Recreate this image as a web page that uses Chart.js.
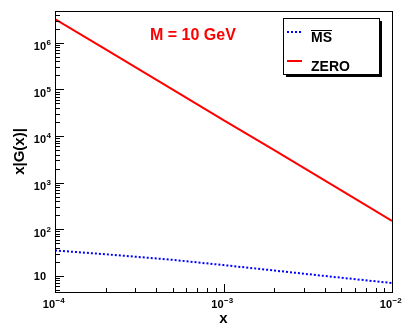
<!DOCTYPE html>
<html>
<head>
<meta charset="utf-8">
<script src="https://cdn.jsdelivr.net/npm/chart.js@4"></script>
<style>
  body { margin: 0; background: #fff; }
  #wrap { width: 403px; height: 332px; }
</style>
</head>
<body>
<div id="wrap"><canvas id="myChart" width="403" height="332"></canvas></div>
<script>
// data
const xValues = [1e-4, 2e-4, 5e-4, 1e-3, 2e-3, 5e-3, 1e-2];
const msValues = [35, 29, 22, 17, 13, 9.1, 7.0];
const zeroValues = [3.2e6, 7.2e5, 9.9e4, 2.2e4, 5.0e3, 680, 150];
const seriesLabels = ['MS', 'ZERO'];
const xTickExps = [-4, -3, -2];
const yTickExps = [1, 2, 3, 4, 5, 6];
const titleText = 'M = 10 GeV';
const xTitle = 'x';
const yTitle = 'x|G(x)|';

const FONT = '"Liberation Sans", Arial, sans-serif';

function pts(ys) {
    return xValues.map((x, i) => ({ x: x, y: ys[i] }));
}

function logTicks(min, max) {
    var out = [];
    for (var d = Math.floor(Math.log10(min)); d <= Math.ceil(Math.log10(max)); d++) {
        for (var k = 1; k <= 9; k++) {
            var v = k * Math.pow(10, d);
            if (v >= min * 0.999 && v <= max * 1.001) out.push({ v: v, major: k === 1 });
        }
    }
    return out;
}

function powLabel(ctx, exp, x, y, align) {
    // draws "10" with a raised exponent, x is the anchor for "10" per align
    ctx.font = 'bold 11px ' + FONT;
    var baseW = ctx.measureText('10').width;
    var expStr = exp === 1 ? '' : String(exp).replace('-', '\u2212');
    ctx.font = 'bold 8px ' + FONT;
    var expW = expStr ? ctx.measureText(expStr).width : 0;
    var left;
    if (align === 'right') left = x - baseW;
    else left = x - (baseW + expW) / 2;
    ctx.textAlign = 'left';
    ctx.textBaseline = 'alphabetic';
    ctx.font = 'bold 11px ' + FONT;
    ctx.fillText('10', left, y);
    if (expStr) {
        ctx.font = 'bold 8px ' + FONT;
        ctx.fillText(expStr, left + baseW + 0.5, y - 5);
    }
}

const rootFrame = {
    id: 'rootFrame',
    afterDraw(chart) {
        var ctx = chart.ctx, a = chart.chartArea;
        var xs = chart.scales.x, ys = chart.scales.y;
        ctx.save();
        ctx.fillStyle = '#000';
        ctx.strokeStyle = '#000';
        ctx.lineWidth = 1;
        ctx.strokeRect(Math.round(a.left) + 0.5, Math.round(a.top) + 0.5,
            Math.round(a.right - a.left), Math.round(a.bottom - a.top));

        // y ticks (inside, on left axis)
        logTicks(ys.min, ys.max).forEach(t => {
            var py = Math.round(ys.getPixelForValue(t.v)) + 0.5;
            ctx.beginPath();
            ctx.moveTo(a.left, py);
            ctx.lineTo(a.left + (t.major ? 9 : 5), py);
            ctx.stroke();
        });
        // x ticks (inside, on bottom axis)
        logTicks(xs.min, xs.max).forEach(t => {
            var px = Math.round(xs.getPixelForValue(t.v)) + 0.5;
            ctx.beginPath();
            ctx.moveTo(px, a.bottom);
            ctx.lineTo(px, a.bottom - (t.major ? 8 : 4));
            ctx.stroke();
        });

        // tick labels
        yTickExps.forEach(e => {
            var py = ys.getPixelForValue(Math.pow(10, e));
            powLabel(ctx, e, a.left - 9, py + (e === 1 ? 4.5 : 7.5), 'right');
        });
        xTickExps.forEach(e => {
            var px = xs.getPixelForValue(Math.pow(10, e));
            powLabel(ctx, e, px - 1.5, a.bottom + 16, 'center');
        });

        // axis titles
        ctx.font = 'bold 15px ' + FONT;
        ctx.textAlign = 'center';
        ctx.textBaseline = 'alphabetic';
        ctx.fillText(xTitle, (a.left + a.right) / 2, 323);
        ctx.save();
        ctx.translate(24, (a.top + a.bottom) / 2);
        ctx.rotate(-Math.PI / 2);
        ctx.fillText(yTitle, 0, 0);
        ctx.restore();

        // title text
        ctx.fillStyle = '#ff0000';
        ctx.font = 'bold 16px ' + FONT;
        ctx.textAlign = 'left';
        ctx.fillText(titleText, 150, 40);

        // legend box with shadow
        var lx = 283, ly = 18, lw = 96, lh = 56;
        ctx.fillStyle = '#000';
        ctx.fillRect(lx + 3, ly + 3, lw, lh);
        ctx.fillStyle = '#fff';
        ctx.fillRect(lx, ly, lw, lh);
        ctx.strokeStyle = '#000';
        ctx.strokeRect(lx + 0.5, ly + 0.5, lw, lh);
        var rows = [32, 61];
        chart.data.datasets.forEach((ds, i) => {
            ctx.strokeStyle = ds.borderColor;
            ctx.lineWidth = 2;
            ctx.setLineDash(ds.borderDash || []);
            ctx.beginPath();
            ctx.moveTo(287, rows[i]);
            ctx.lineTo(302, rows[i]);
            ctx.stroke();
            ctx.setLineDash([]);
            ctx.fillStyle = '#000';
            ctx.font = 'bold 14px ' + FONT;
            ctx.textAlign = 'left';
            ctx.fillText(ds.label, 311, rows[i] + 10);
            if (ds.label === 'MS') {
                var w = ctx.measureText(ds.label).width;
                ctx.lineWidth = 1;
                ctx.strokeStyle = '#000';
                ctx.beginPath();
                ctx.moveTo(311, 30.5);
                ctx.lineTo(311 + w, 30.5);
                ctx.stroke();
            }
        });
        ctx.restore();
    }
};

const ctx = document.getElementById('myChart').getContext('2d');
const myChartObj = new Chart(ctx, {
    type: 'scatter',
    data: {
        datasets: [{
            label: seriesLabels[0],
            data: pts(msValues),
            showLine: true,
            borderColor: '#0000ff',
            borderWidth: 2,
            borderDash: [2, 2],
            pointRadius: 0
        }, {
            label: seriesLabels[1],
            data: pts(zeroValues),
            showLine: true,
            borderColor: '#ff0000',
            borderWidth: 2,
            pointRadius: 0
        }]
    },
    options: {
        responsive: false,
        animation: false,
        layout: { padding: { left: 55, top: 11, right: 11, bottom: 40 } },
        plugins: { legend: { display: false }, tooltip: { enabled: false } },
        scales: {
            x: { type: 'logarithmic', min: 1e-4, max: 1e-2, display: false },
            y: { type: 'logarithmic', min: 4.5, max: 4.8e6, display: false }
        }
    },
    plugins: [rootFrame]
});
</script>
</body>
</html>
